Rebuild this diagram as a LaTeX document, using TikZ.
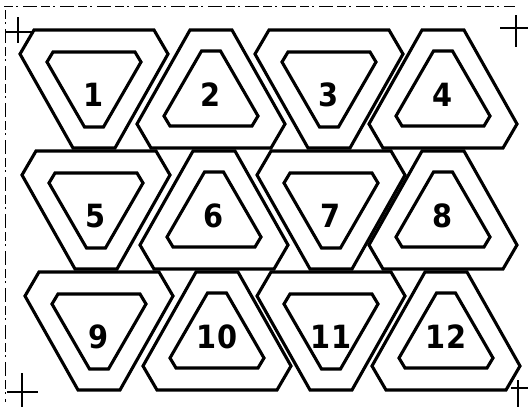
\documentclass[tikz,border=0pt]{standalone}
\usepackage{fontspec}
\newfontfamily\digitfont{DejaVu Sans Condensed}
\usepackage{tikz}
\usetikzlibrary{positioning}
\begin{document}
\begin{tikzpicture}[x=1pt,y=-1pt,
  outline/.style={line width=3.1pt, line join=miter},
  digit/.style={font=\digitfont\bfseries\fontsize{32}{32}\selectfont, inner sep=0pt},
  cross/.style={line width=2.6pt},
  edgemark/.style={line width=0.7pt, dash pattern=on 9pt off 3pt on 2pt off 5pt on 14pt off 4pt}]
  \useasboundingbox (0,0) rectangle (528,407);
  \draw[edgemark] (4,6) -- (515,6);
  \draw[edgemark] (5,10) -- (5,402);
  \foreach \cx/\cy/\s/\n in {94/89/1/1, 211/89/-1/2, 329/89/1/3, 443/89/-1/4,
                             96/210/1/5, 214/210/-1/6, 331/210/1/7, 443/210/-1/8,
                             99/331/1/9, 217/331/-1/10, 331/331/1/11, 446/331/-1/12}{
    \draw[outline] (\cx-60,\cy-59*\s) -- (\cx+60,\cy-59*\s) -- (\cx+74,\cy-35*\s)
      -- (\cx+21,\cy+59*\s) -- (\cx-21,\cy+59*\s) -- (\cx-74,\cy-35*\s) -- cycle;
    \draw[outline] (\cx-41,\cy-37*\s) -- (\cx+41,\cy-37*\s) -- (\cx+47,\cy-27*\s)
      -- (\cx+9.5,\cy+38*\s) -- (\cx-9.5,\cy+38*\s) -- (\cx-47,\cy-27*\s) -- cycle;
    \node[digit] (num\n) at (\cx,\cy+6) {\n};
  }
  \draw[cross] (6,32) -- (32,32) (18,17) -- (18,43);
  \draw[cross] (500,28) -- (528,28) (516,15) -- (516,47);
  \draw[cross] (7,392) -- (38,392) (22,373) -- (22,407);
  \draw[cross] (511,388) -- (528,388) (518,380) -- (518,407);
\end{tikzpicture}
\end{document}
